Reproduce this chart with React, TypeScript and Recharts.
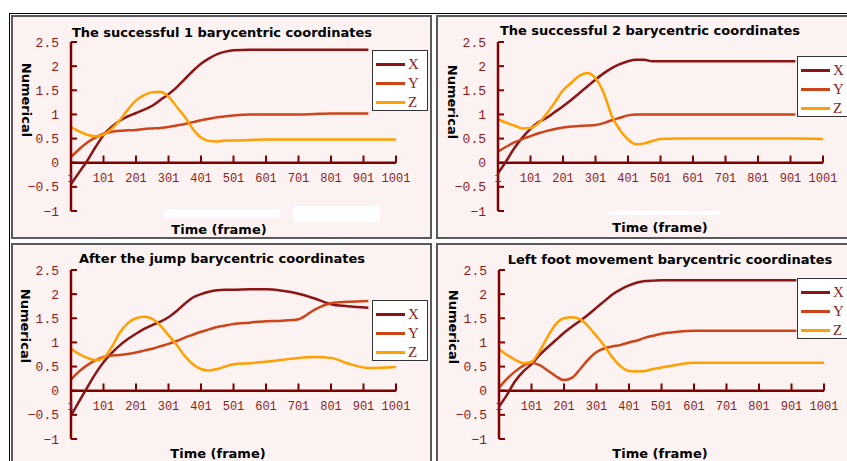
import React from 'react';
import { LineChart, Line, XAxis, YAxis, ReferenceLine, ReferenceDot, Legend } from 'recharts';

// sampled frames (x) shared by all four panels
const frames = [1, 26, 51, 76, 101, 126, 151, 176, 201, 226, 251, 276, 301, 326, 351, 376, 401, 426, 451, 476, 501, 551, 601, 651, 701, 751, 801, 851, 916, 1001];
const frameTicks = [1, 101, 201, 301, 401, 501, 601, 701, 801, 901, 1001];
const valueTicks = [-1, -0.5, 0, 0.5, 1, 1.5, 2, 2.5];

const success1X = [-0.44, -0.2, 0.04, 0.32, 0.57, 0.74, 0.87, 0.96, 1.03, 1.1, 1.18, 1.3, 1.42, 1.56, 1.73, 1.9, 2.05, 2.16, 2.25, 2.3, 2.33, 2.34, 2.34, 2.34, 2.34, 2.34, 2.34, 2.34, 2.34, null];
const success1Y = [0.12, 0.28, 0.42, 0.52, 0.6, 0.64, 0.66, 0.67, 0.68, 0.7, 0.71, 0.72, 0.74, 0.77, 0.8, 0.84, 0.88, 0.91, 0.94, 0.96, 0.98, 1.0, 1.0, 1.0, 1.0, 1.01, 1.02, 1.02, 1.02, null];
const success1Z = [0.74, 0.65, 0.58, 0.55, 0.58, 0.7, 0.88, 1.1, 1.29, 1.4, 1.46, 1.47, 1.37, 1.16, 0.95, 0.7, 0.52, 0.45, 0.44, 0.46, 0.46, 0.47, 0.48, 0.48, 0.48, 0.48, 0.48, 0.48, 0.48, 0.48];

const success2X = [-0.22, 0.03, 0.3, 0.52, 0.7, 0.84, 0.93, 1.05, 1.17, 1.3, 1.44, 1.58, 1.72, 1.85, 1.96, 2.04, 2.1, 2.13, 2.13, 2.1, 2.1, 2.1, 2.1, 2.1, 2.1, 2.1, 2.1, 2.1, 2.1, null];
const success2Y = [0.23, 0.33, 0.42, 0.49, 0.55, 0.61, 0.66, 0.7, 0.73, 0.75, 0.76, 0.77, 0.78, 0.82, 0.88, 0.93, 0.98, 1.0, 1.0, 1.0, 1.0, 1.0, 1.0, 1.0, 1.0, 1.0, 1.0, 1.0, 1.0, null];
const success2Z = [0.9, 0.83, 0.77, 0.71, 0.72, 0.82, 1.02, 1.25, 1.5, 1.65, 1.8, 1.86, 1.75, 1.45, 0.97, 0.68, 0.48, 0.38, 0.4, 0.45, 0.49, 0.5, 0.5, 0.5, 0.5, 0.5, 0.5, 0.5, 0.5, 0.49];

const jumpX = [-0.52, -0.22, 0.07, 0.35, 0.59, 0.78, 0.94, 1.07, 1.18, 1.28, 1.36, 1.43, 1.52, 1.65, 1.8, 1.93, 2.0, 2.05, 2.08, 2.09, 2.09, 2.1, 2.1, 2.07, 2.01, 1.91, 1.79, 1.75, 1.72, null];
const jumpY = [0.23, 0.4, 0.53, 0.63, 0.7, 0.73, 0.74, 0.76, 0.79, 0.83, 0.87, 0.92, 0.97, 1.03, 1.1, 1.16, 1.22, 1.27, 1.32, 1.35, 1.38, 1.41, 1.44, 1.45, 1.48, 1.68, 1.81, 1.84, 1.86, null];
const jumpZ = [0.87, 0.76, 0.68, 0.63, 0.68, 0.9, 1.2, 1.4, 1.5, 1.53, 1.49, 1.35, 1.15, 0.95, 0.72, 0.55, 0.45, 0.42, 0.45, 0.5, 0.55, 0.57, 0.6, 0.64, 0.68, 0.7, 0.68, 0.57, 0.47, 0.49];

const leftFootX = [-0.33, -0.08, 0.2, 0.4, 0.55, 0.74, 0.9, 1.05, 1.2, 1.33, 1.45, 1.58, 1.72, 1.86, 2.0, 2.1, 2.18, 2.24, 2.27, 2.28, 2.29, 2.29, 2.29, 2.29, 2.29, 2.29, 2.29, 2.29, 2.29, null];
const leftFootY = [0.06, 0.25, 0.4, 0.52, 0.58, 0.53, 0.42, 0.3, 0.22, 0.27, 0.45, 0.65, 0.8, 0.88, 0.92, 0.95, 1.0, 1.04, 1.1, 1.14, 1.18, 1.22, 1.24, 1.24, 1.24, 1.24, 1.24, 1.24, 1.24, null];
const leftFootZ = [0.86, 0.74, 0.64, 0.57, 0.6, 0.82, 1.12, 1.38, 1.5, 1.52, 1.48, 1.33, 1.13, 0.92, 0.68, 0.5, 0.41, 0.4, 0.41, 0.45, 0.48, 0.54, 0.58, 0.58, 0.58, 0.58, 0.58, 0.58, 0.58, 0.58];

const AXIS = '#800000';
const TICK_TXT = '#8b1c1c';
const COLORS = { X: '#8b1414', Y: '#cc4418', Z: '#ffa000' };
const PANEL_W = 421;
const PANEL_H = 224;
const PLOT_W = 325;

const titleFont = { fontFamily: 'DejaVu Sans', fontWeight: 'bold' as const, fontSize: 13, color: '#000', lineHeight: 1, whiteSpace: 'nowrap' as const };

const LegendBox = ({ payload }: any) => (
  <div style={{ width: 56, height: 61, boxSizing: 'border-box', border: '1px solid #333', background: '#fff', paddingTop: 4 }}>
    {(payload || []).map((p: any) => (
      <div key={p.value} style={{ display: 'flex', alignItems: 'center', height: 19 }}>
        <div style={{ marginLeft: 3, width: 29, height: 3, background: p.color }} />
        <span style={{ marginLeft: 3, fontFamily: 'Liberation Serif', fontSize: 15, color: TICK_TXT, lineHeight: '19px' }}>{p.value}</span>
      </div>
    ))}
  </div>
);

function Panel(props: any) {
  const { left, top, plotLeft, title, titlePos, numPos, timePos, legendPos, xs, ys, zs } = props;
  const data = frames.map((f, i) => ({ frame: f, X: xs[i], Y: ys[i], Z: zs[i] }));
  return (
    <div style={{ position: 'absolute', left, top, width: PANEL_W, height: PANEL_H }}>
      <div style={{ position: 'absolute', inset: 0, background: '#fdf2f2', border: '2px solid #5a5a5a', boxSizing: 'border-box' }} />
      <div style={{ position: 'absolute', left: 0, top: 0 }}>
        <LineChart width={PANEL_W} height={PANEL_H} data={data}
          margin={{ top: 27, right: PANEL_W - plotLeft - PLOT_W, bottom: 28, left: plotLeft - 60 }}>
          <XAxis dataKey="frame" type="number" domain={[1, 1001]} hide />
          <YAxis type="number" domain={[-1, 2.5]} ticks={valueTicks} interval={0} width={60}
            axisLine={{ stroke: AXIS, strokeWidth: 2.5 }} tickLine={{ stroke: AXIS, strokeWidth: 2 }}
            tickSize={-6} tickMargin={18}
            tick={{ fill: TICK_TXT, fontSize: 13, fontFamily: 'Liberation Mono' }}
            tickFormatter={(v: number) => String(v).replace('-', '\u2212')} />
          <ReferenceLine y={0} stroke={AXIS} strokeWidth={2.5} />
          {frameTicks.slice(1).map((t) => (
            <ReferenceLine key={'tk' + t} segment={[{ x: t, y: 0 }, { x: t, y: 0.15 }]} stroke={AXIS} strokeWidth={2} />
          ))}
          {frameTicks.map((t) => (
            <ReferenceDot key={'lb' + t} x={t} y={0} r={0} fill="none" stroke="none"
              label={{ value: String(t), position: 'bottom', offset: 11, fill: TICK_TXT, fontSize: 12, fontFamily: 'Liberation Mono' }} />
          ))}
          <Line dataKey="X" type="monotone" stroke={COLORS.X} strokeWidth={2.5} dot={false} isAnimationActive={false} />
          <Line dataKey="Y" type="monotone" stroke={COLORS.Y} strokeWidth={2.5} dot={false} isAnimationActive={false} />
          <Line dataKey="Z" type="monotone" stroke={COLORS.Z} strokeWidth={2.5} dot={false} isAnimationActive={false} />
          <Legend layout="vertical" align="center" verticalAlign="middle" content={<LegendBox />}
            wrapperStyle={{ left: legendPos[0], top: legendPos[1], width: 56, height: 61 }} />
        </LineChart>
      </div>
      <div style={{ ...titleFont, position: 'absolute', left: titlePos[0], top: titlePos[1], transform: 'translate(-50%, -50%)' }}>{title}</div>
      <div style={{ ...titleFont, position: 'absolute', left: numPos[0], top: numPos[1], transform: 'translate(-50%, -50%)', writingMode: 'vertical-rl' }}>Numerical</div>
      <div style={{ ...titleFont, position: 'absolute', left: timePos[0], top: timePos[1], transform: 'translate(-50%, -50%)' }}>Time (frame)</div>
    </div>
  );
}

export default function App() {
  return (
    <div style={{ position: 'absolute', left: 0, top: 0, width: 847, height: 461, overflow: 'hidden', background: '#fff' }}>
      <div style={{ position: 'absolute', left: 9, top: 13, width: 900, height: 500, borderLeft: '1px solid #000', borderTop: '1px solid #000' }} />
      <Panel left={11} top={15} plotLeft={60} title="The successful 1 barycentric coordinates"
        titlePos={[211, 17]} numPos={[15, 85]} timePos={[208, 214]} legendPos={[361, 35]}
        xs={success1X} ys={success1Y} zs={success1Z} />
      <Panel left={436} top={15} plotLeft={62} title="The successful 2 barycentric coordinates"
        titlePos={[214, 15]} numPos={[16, 87]} timePos={[224, 212]} legendPos={[361, 41]}
        xs={success2X} ys={success2Y} zs={success2Z} />
      <Panel left={11} top={243} plotLeft={60} title="After the jump barycentric coordinates"
        titlePos={[211, 15]} numPos={[14, 83]} timePos={[207, 210]} legendPos={[361, 57]}
        xs={jumpX} ys={jumpY} zs={jumpZ} />
      <Panel left={436} top={243} plotLeft={63} title="Left foot movement barycentric coordinates"
        titlePos={[234, 16]} numPos={[17, 84]} timePos={[224, 210]} legendPos={[361, 35]}
        xs={leftFootX} ys={leftFootY} zs={leftFootZ} />
      {/* erased patches visible in the source picture */}
      <div style={{ position: 'absolute', left: 164, top: 209, width: 116, height: 9, background: '#fff' }} />
      <div style={{ position: 'absolute', left: 293, top: 206, width: 87, height: 16, background: '#fff' }} />
      <div style={{ position: 'absolute', left: 608, top: 211, width: 112, height: 4, background: '#fff' }} />
    </div>
  );
}
